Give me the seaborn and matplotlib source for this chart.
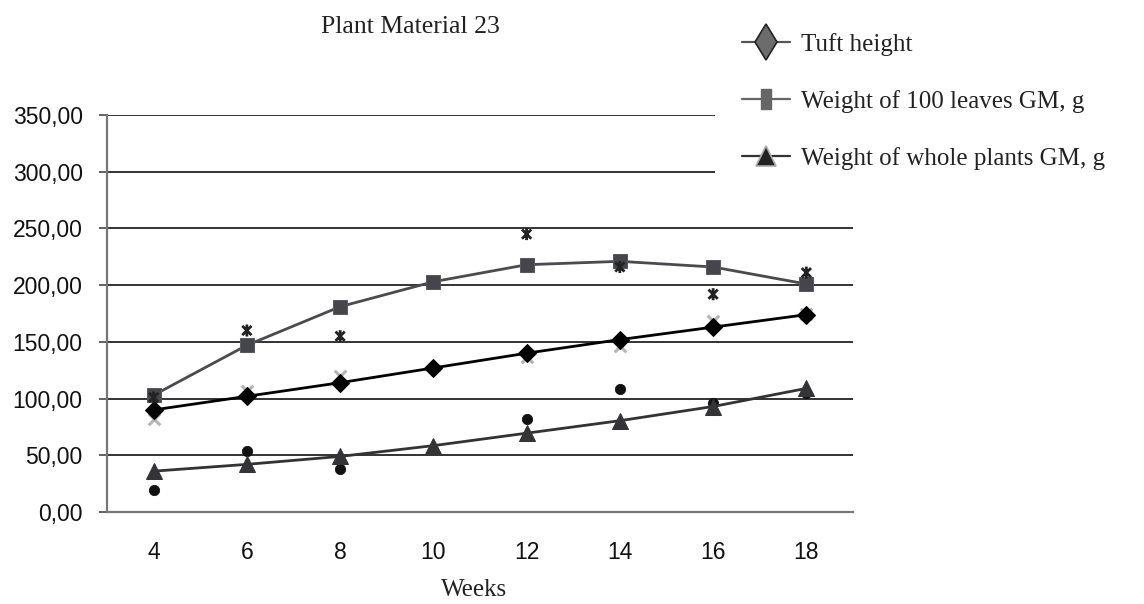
import numpy as np
import pandas as pd
import matplotlib
matplotlib.use("Agg")
import matplotlib.pyplot as plt
from matplotlib.path import Path
from matplotlib.lines import Line2D
from matplotlib.patches import Rectangle
import seaborn as sns

# ---- data ----
weeks = [4, 6, 8, 10, 12, 14, 16, 18]
tuft_trend = [90, 102, 114, 127, 140, 152, 163, 174]
tuft_obs = [82, 107, 120, np.nan, 137, 146, 168, 175]
leaves_trend = [103, 147, 181, 203, 218, 221, 216, 201]
leaves_obs = [101, 160, 155, np.nan, 245, 216, 192, 211]
plants_trend = [36, 42, 49, 58.5, 69.5, 80.5, 93, 109]
plants_obs = [19, 54, 38, np.nan, 82, 108, 96, 105]
ytick_values = [0, 50, 100, 150, 200, 250, 300, 350]
ytick_labels = ["0,00", "50,00", "100,00", "150,00", "200,00", "250,00", "300,00", "350,00"]
series_names = ["Tuft height", "Weight of 100 leaves GM, g", "Weight of whole plants GM, g"]
title = "Plant Material 23"
xlabel = "Weeks"

sns.set_theme(style="white")
plt.rcParams["font.family"] = ["Liberation Sans", "DejaVu Sans"]

W, H = 1144, 604
fig = plt.figure(figsize=(W / 100, H / 100), dpi=100)
ax = fig.add_axes([107 / W, 1 - 512 / H, (853 - 107) / W, (512 - 115) / H])

pos = np.arange(len(weeks))
df = pd.DataFrame({
    "pos": pos,
    "tuft_trend": tuft_trend, "tuft_obs": tuft_obs,
    "leaves_trend": leaves_trend, "leaves_obs": leaves_obs,
    "plants_trend": plants_trend, "plants_obs": plants_obs,
})

# asterisk marker (x with vertical bar), like the spreadsheet one
ast = Path([(-1, -1), (1, 1), (-1, 1), (1, -1), (0, -1.3), (0, 1.3)],
           [Path.MOVETO, Path.LINETO, Path.MOVETO, Path.LINETO, Path.MOVETO, Path.LINETO])

# observed points
sns.scatterplot(data=df, x="pos", y="tuft_obs", ax=ax, marker="x", s=70,
                color="#b5b5b5", linewidth=2.2, zorder=3)
sns.scatterplot(data=df, x="pos", y="leaves_obs", ax=ax, marker=ast, s=75,
                facecolor="none", edgecolor="#222222", linewidth=2.0, zorder=5)
sns.scatterplot(data=df, x="pos", y="plants_obs", ax=ax, marker="o", s=55,
                color="#111111", edgecolor="#111111", zorder=3)

# trend lines
sns.lineplot(data=df, x="pos", y="leaves_trend", ax=ax, color="#4a4a50", linewidth=2.0,
             marker="s", markersize=10, markerfacecolor="#45454c", markeredgecolor="#5a5a60",
             zorder=2)
sns.lineplot(data=df, x="pos", y="tuft_trend", ax=ax, color="#000000", linewidth=2.0,
             marker="D", markersize=9, markerfacecolor="#000000", markeredgecolor="#000000",
             zorder=4)
sns.lineplot(data=df, x="pos", y="plants_trend", ax=ax, color="#333333", linewidth=2.0,
             marker="^", markersize=12, markerfacecolor="#333338", markeredgecolor="#333338",
             zorder=4)

# axes styling
ax.set_xlim(-0.5, len(weeks) - 0.5)
ax.set_ylim(0, 350)
ax.set_yticks(ytick_values)
ax.set_yticklabels(ytick_labels, fontsize=16.5, color="#111111")
ax.set_xticks(pos)
ax.set_xticklabels([str(w) for w in weeks], fontsize=16.5, color="#111111")
ax.set_xticks(np.arange(-0.5, len(weeks), 1.0), minor=True)
ax.tick_params(axis="x", which="major", length=0, pad=21)
ax.tick_params(axis="x", which="minor", length=6, width=1.3, color="#555555", direction="out")
ax.tick_params(axis="y", which="major", length=5.5, width=1.3, color="#555555",
               direction="out", pad=12, left=True)
for side in ["top", "right"]:
    ax.spines[side].set_visible(False)
for side in ["left", "bottom"]:
    ax.spines[side].set_color("#777777")
    ax.spines[side].set_linewidth(1.6)
ax.yaxis.grid(True, color="#111111", linewidth=1.2)
ax.xaxis.grid(False)
ax.set_axisbelow(True)
ax.set_ylabel("")
ax.set_xlabel(xlabel, fontsize=18, family=["Liberation Serif", "DejaVu Serif"], color="#222222")
ax.xaxis.set_label_coords((474 - 107) / (853 - 107), (512 - 590) / (512 - 115))
ax.xaxis.label.set_va("center")

# white area behind legend (covers the upper gridlines)
fig.patches.append(Rectangle((715 / W, 1 - 195 / H), 1 - 715 / W, 195 / H,
                             transform=fig.transFigure, facecolor="white",
                             edgecolor="none", zorder=5))

fig.text(410 / W, 1 - 27 / H, title, ha="center", va="center", fontsize=18.5,
         family=["Liberation Serif", "DejaVu Serif"], color="#222222")

rect_marker = Path([(-0.55, -1), (0.55, -1), (0.55, 1), (-0.55, 1), (-0.55, -1)],
                   [Path.MOVETO, Path.LINETO, Path.LINETO, Path.LINETO, Path.CLOSEPOLY])
handles = [
    Line2D([], [], color="#555555", linewidth=1.6, marker="d", markersize=18,
           markerfacecolor="#6c6c6c", markeredgecolor="#222222", markeredgewidth=1.2),
    Line2D([], [], color="#666666", linewidth=1.6, marker=rect_marker, markersize=14,
           markerfacecolor="#666666", markeredgecolor="#666666"),
    Line2D([], [], color="#333333", linewidth=1.6, marker="^", markersize=15,
           markerfacecolor="#222226", markeredgecolor="#aaaaaa", markeredgewidth=1.2),
]
leg = fig.legend(handles, series_names, loc="upper left",
                 bbox_to_anchor=(742 / W, 1 - 33 / H), frameon=False,
                 prop={"family": ["Liberation Serif", "DejaVu Serif"], "size": 18},
                 handlelength=1.9, handletextpad=0.45, labelspacing=1.36, borderpad=0,
                 borderaxespad=0)
leg.set_zorder(6)
for t in leg.get_texts():
    t.set_color("#222222")

fig.savefig("out.png", dpi=100, facecolor="white")
